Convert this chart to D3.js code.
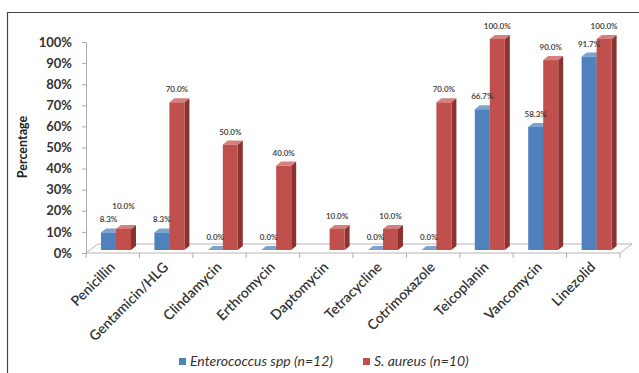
<!DOCTYPE html>
<html>
<head>
<meta charset="utf-8">
<script src="https://cdn.jsdelivr.net/npm/d3@7"></script>
<style>
  body { margin: 0; background: #fff; }
  text { font-family: Lato, "Open Sans", sans-serif; }
</style>
</head>
<body>
<svg id="chart"></svg>
<script>
const drugs = ['Penicillin', 'Gentamicin/HLG', 'Clindamycin', 'Erthromycin', 'Daptomycin',
               'Tetracycline', 'Cotrimoxazole', 'Teicoplanin', 'Vancomycin', 'Linezolid'];
const seriesNames = ['Enterococcus spp (n=12)', 'S. aureus (n=10)'];
const enterococcus = [8.3, 8.3, 0.0, 0.0, null, 0.0, 0.0, 66.7, 58.3, 91.7];
const aureus = [10.0, 70.0, 50.0, 40.0, 10.0, 10.0, 70.0, 100.0, 90.0, 100.0];
const yTicks = [0, 10, 20, 30, 40, 50, 60, 70, 80, 90, 100];

const width = 639, height = 373;
const svg = d3.select('#chart').attr('width', width).attr('height', height);

// frame
svg.append('path')
  .attr('d', `M7.5,${height} V12.5 H${width}`)
  .attr('fill', 'none').attr('stroke', '#444').attr('stroke-width', 1.2);

const x = d3.scaleBand().domain(drugs).range([86, 620]);
const y = d3.scaleLinear().domain([0, 100]).range([253, 42]);
const depthX = 12, depthY = -9;     // floor depth
const bx = 5, by = -4;              // bar depth
const barW = 15, barOff = 15;

// floor
svg.append('path')
  .attr('d', `M86,253 L620,253 L${620 + depthX},${253 + depthY} L${86 + depthX},${253 + depthY} Z`)
  .attr('fill', '#fff').attr('stroke', '#b5b5b5').attr('stroke-width', 1);

// y axis
const yAxis = svg.append('g').attr('transform', 'translate(86,0)')
  .call(d3.axisLeft(y).tickValues(yTicks).tickFormat(d => d + '%').tickSize(4).tickPadding(10));
yAxis.select('.domain').attr('stroke', '#aaa');
yAxis.selectAll('.tick line').attr('stroke', '#aaa');
yAxis.selectAll('.tick text').attr('font-size', 13).attr('font-weight', 700).attr('fill', '#333')
  .style('font-family', 'Lato, sans-serif');

svg.append('text')
  .attr('transform', 'translate(27,147) rotate(-90)')
  .attr('text-anchor', 'middle')
  .attr('font-size', 12.5).attr('font-weight', 700).attr('fill', '#222')
  .text('Percentage');

// x ticks
const xTicks = d3.range(drugs.length + 1).map(i => 86 + i * x.bandwidth());
svg.selectAll('.xtick').data(xTicks).enter().append('line')
  .attr('x1', d => d).attr('x2', d => d).attr('y1', 253).attr('y2', 258)
  .attr('stroke', '#aaa');

// category labels
svg.selectAll('.cat').data(drugs).enter().append('text')
  .attr('transform', d => `translate(${x(d) + x.bandwidth() / 2 + 3},${268}) rotate(-45)`)
  .attr('text-anchor', 'end')
  .attr('font-size', 14).attr('font-weight', 600).attr('fill', '#333')
  .text(d => d);

const colors = [
  { front: '#4F81BD', side: '#38618F', top: '#7FA2D0' },
  { front: '#C0504D', side: '#8A3432', top: '#D6807D' }
];

function bar(g, x0, v, c) {
  const base = 250, top = y(v) - 3;
  g.append('path')
    .attr('d', `M${x0 + barW},${base} L${x0 + barW + bx},${base + by} L${x0 + barW + bx},${top + by} L${x0 + barW},${top} Z`)
    .attr('fill', c.side);
  g.append('path')
    .attr('d', `M${x0},${top} L${x0 + bx},${top + by} L${x0 + barW + bx},${top + by} L${x0 + barW},${top} Z`)
    .attr('fill', c.top);
  g.append('rect')
    .attr('x', x0).attr('y', top).attr('width', barW).attr('height', Math.max(0, base - top))
    .attr('fill', c.front);
}

const bars = svg.append('g');
const labels = svg.append('g');
drugs.forEach((d, i) => {
  const x0 = x(d) + barOff;
  const vals = [enterococcus[i], aureus[i]];
  let prevY = null;
  vals.forEach((v, s) => {
    if (v === null) return;
    const bx0 = x0 + s * barW;
    bar(bars, bx0, v, colors[s]);
    let ly = y(v) - 13;
    const lx = bx0 + barW / 2;
    if (prevY !== null && Math.abs(prevY - ly) < 9) ly = prevY - 13;
    labels.append('text')
      .attr('x', lx).attr('y', ly)
      .attr('text-anchor', 'middle')
      .attr('font-size', 8).attr('font-weight', 600).attr('fill', '#333')
      .text(v.toFixed(1) + '%');
    prevY = ly;
  });
});

// legend
const legend = svg.append('g').attr('transform', 'translate(179,362)');
const legX = [0, 184];
seriesNames.forEach((n, i) => {
  const g = legend.append('g').attr('transform', `translate(${legX[i]},0)`);
  g.append('rect').attr('x', 0).attr('y', -4).attr('width', 7).attr('height', 7).attr('fill', colors[i].front);
  g.append('text').attr('x', 11).attr('y', 4)
    .attr('font-size', 14).attr('font-style', 'italic').attr('fill', '#333')
    .text(n);
});
</script>
</body>
</html>
